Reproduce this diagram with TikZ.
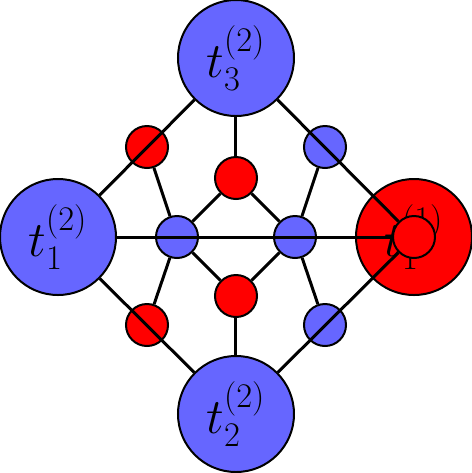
\documentclass[tikz,border=0pt]{standalone}
\usepackage{amsmath}
\definecolor{tblue}{RGB}{102,102,255}
\tikzset{every picture/.style={line width=0.75pt}}
\tikzset{
  bigblue/.style={circle,draw,line width=1pt,fill=tblue,minimum size=58pt,inner sep=0pt,font=\fontsize{23.5}{28}\selectfont},
  bigred/.style={bigblue,fill=red},
  smallblue/.style={circle,draw,line width=1pt,fill=tblue,minimum size=21pt,inner sep=0pt},
  smallred/.style={smallblue,fill=red},
  edge/.style={line width=1.5pt}
}
\begin{document}
\begin{tikzpicture}[x=0.5pt,y=0.5pt,yscale=-1,xscale=1]
	\useasboundingbox (0,0) rectangle (472,473);
	
	% Big red disc behind the graph
	\node [bigred] (back) at (414,237) {$t_1^{(1)}$};
	
	% Big Nodes
	\node [bigblue] (ta) at (58,237) {$t_1^{(2)}$};
	\node [bigblue] (tb) at (236,414) {$t_2^{(2)}$};
	\node [bigblue] (tc) at (236,58) {$t_3^{(2)}$};
	\node [smallred] (td) at (414,237) {};
	
	% Small Nodes
	\node [smallblue] (ml) at (177,237) {};
	\node [smallblue] (mr) at (295,237) {};
	\node [smallred] (mt) at (236,178) {};
	\node [smallred] (mb) at (236,296) {};
	\node [smallred] (cnw) at (147,147) {};
	\node [smallblue] (cne) at (325,147) {};
	\node [smallred] (csw) at (147,325) {};
	\node [smallblue] (cse) at (325,325) {};
	
	% Outer Lines
	\draw [edge] (ta) -- (tc) ;
	\draw [edge] (tc) -- (td) ;
	\draw [edge] (ta) -- (tb) ;
	\draw [edge] (tb) -- (td) ;
	\draw [edge] (ta) -- (td) ;
	% Inner Lines
	\draw [edge] (tc) -- (mt) ;
	\draw [edge] (tb) -- (mb) ;
	\draw [edge] (mt) -- (ml) ;
	\draw [edge] (mt) -- (mr) ;
	\draw [edge] (mb) -- (ml) ;
	\draw [edge] (mb) -- (mr) ;
	\draw [edge] (cnw) -- (ml) ;
	\draw [edge] (csw) -- (ml) ;
	\draw [edge] (cne) -- (mr) ;
	\draw [edge] (cse) -- (mr) ;
	
\end{tikzpicture}
\end{document}
